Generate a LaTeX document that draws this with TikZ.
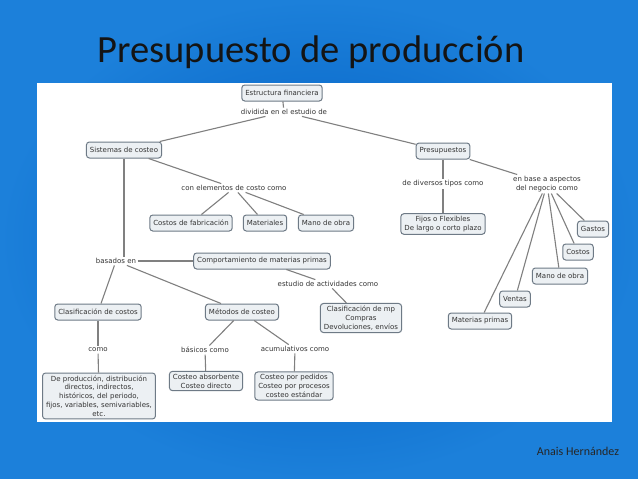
\documentclass[tikz,border=0pt]{standalone}
\usepackage{fontspec}
\setmainfont{DejaVu Sans}
\newfontfamily\titlefont{Carlito}
\definecolor{bordegris}{RGB}{110,122,134}
\definecolor{rellenogris}{RGB}{236,240,243}
\definecolor{lineagris}{RGB}{128,128,128}
\definecolor{azulfuera}{RGB}{28,128,218}
\definecolor{azuldentro}{RGB}{0,92,192}
\tikzset{
  concepto/.style={draw=bordegris, fill=rellenogris, line width=1pt, rounded corners=3pt,
    inner xsep=3.5pt, inner ysep=2.5pt, minimum height=16pt, align=center,
    font=\fontsize{7}{8.8}\selectfont, text=black!80},
  enlace/.style={inner sep=1.5pt, align=center, font=\fontsize{7}{8.8}\selectfont, text=black!80},
  conexion/.style={draw=lineagris, line width=1.1pt}
}
\begin{document}
\begin{tikzpicture}[x=1pt, y=-1pt]
\useasboundingbox (0,0) rectangle (638,479);
\shade[inner color=azuldentro, outer color=azulfuera] (0,0) rectangle (638,479);
\fill[white] (37,83) rectangle (612,422);
\node[font=\titlefont\fontsize{38.5}{44}\selectfont, text=black!92] (titulo) at (311,52) {Presupuesto de producción};
\node[font=\titlefont\fontsize{12}{14}\selectfont, text=black!85] (autora) at (578,451) {Anais Hernández};

% nivel superior
\node[concepto] (estructura) at (282,93) {Estructura financiera};
\node[enlace] (dividida) at (284,112) {dividida en el estudio de};
\node[concepto] (sistemas) at (124,150) {Sistemas de costeo};
\node[concepto] (presupuestos) at (443,151) {Presupuestos};

% rama de costeo
\node[enlace] (elementos) at (234,188) {con elementos de costo como};
\node[concepto] (fabricacion) at (191,223) {Costos de fabricación};
\node[concepto] (materiales) at (265,223) {Materiales};
\node[concepto] (manoizq) at (326,223) {Mano de obra};
\node[enlace] (basados) at (116,261) {basados en};
\node[concepto] (comportamiento) at (262,261) {Comportamiento de materias primas};
\node[enlace] (actividades) at (328,284) {estudio de actividades como};
\node[concepto] (clasifmp) at (361,318) {Clasificación de mp\\Compras\\Devoluciones, envíos};
\node[concepto] (clasifcostos) at (98,312) {Clasificación de costos};
\node[concepto] (metodos) at (242,312) {Métodos de costeo};
\node[enlace] (como) at (98,350) {como};
\node[enlace] (basicos) at (205,350) {básicos como};
\node[enlace] (acumulativos) at (295,349) {acumulativos como};
\node[concepto] (produccion) at (99,396) {De producción, distribución\\directos, indirectos,\\históricos, del periodo,\\fijos, variables, semivariables,\\etc.};
\node[concepto] (absorbente) at (206,381) {Costeo absorbente\\Costeo directo};
\node[concepto] (pedidos) at (294,386) {Costeo por pedidos\\Costeo por procesos\\costeo estándar};

% rama de presupuestos
\node[enlace] (tipos) at (443,184) {de diversos tipos como};
\node[enlace] (aspectos) at (547,184) {en base a aspectos\\del negocio como};
\node[concepto] (fijos) at (443,224) {Fijos o Flexibles\\De largo o corto plazo};
\node[concepto] (gastos) at (593,229) {Gastos};
\node[concepto] (costos) at (578,252) {Costos};
\node[concepto] (manoder) at (560,276) {Mano de obra};
\node[concepto] (ventas) at (515,299) {Ventas};
\node[concepto] (primas) at (480,321) {Materias primas};

% conexiones
\draw[conexion] (estructura) -- (dividida);
\draw[conexion] (dividida) -- (sistemas);
\draw[conexion] (dividida) -- (presupuestos);
\draw[conexion] (sistemas) -- (elementos);
\draw[conexion] (elementos) -- (fabricacion);
\draw[conexion] (elementos) -- (materiales);
\draw[conexion] (elementos) -- (manoizq);
\draw[conexion] (sistemas) -- (sistemas |- basados.north);
\draw[conexion] (basados) -- (comportamiento);
\draw[conexion] (basados) -- (clasifcostos);
\draw[conexion] (basados) -- (metodos);
\draw[conexion] (comportamiento) -- (actividades);
\draw[conexion] (actividades) -- (clasifmp);
\draw[conexion] (clasifcostos) -- (como);
\draw[conexion] (como) -- (produccion);
\draw[conexion] (metodos) -- (basicos);
\draw[conexion] (metodos) -- (acumulativos);
\draw[conexion] (basicos) -- (absorbente);
\draw[conexion] (acumulativos) -- (pedidos);
\draw[conexion] (presupuestos) -- (tipos);
\draw[conexion] (tipos) -- (fijos);
\draw[conexion] (presupuestos) -- (aspectos);
\foreach \destino in {gastos, costos, manoder, ventas, primas}
  \draw[conexion] (aspectos) -- (\destino);
\end{tikzpicture}
\end{document}
